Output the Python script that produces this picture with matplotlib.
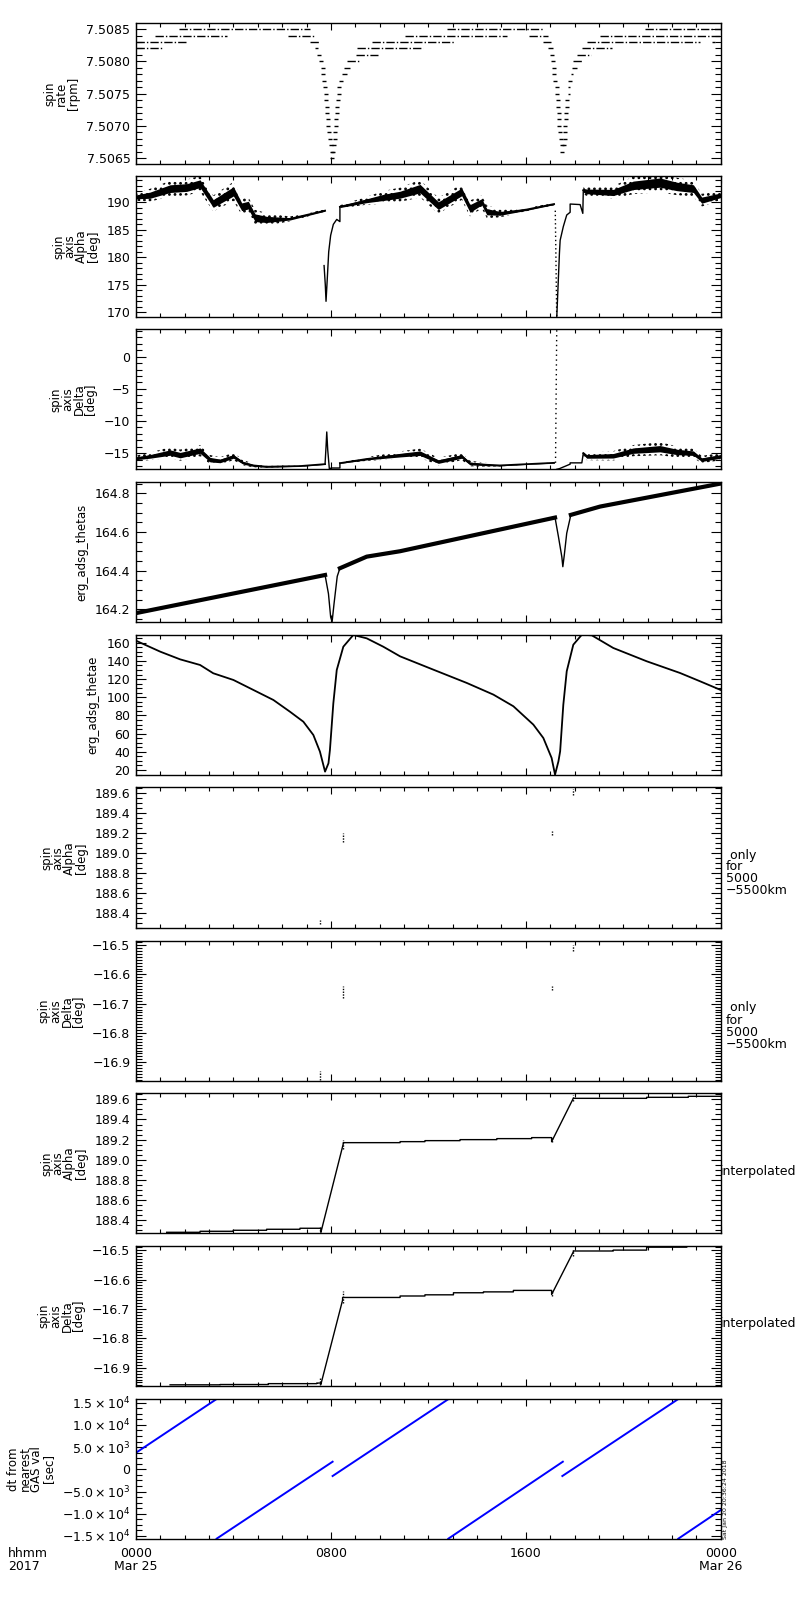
import numpy as np
import matplotlib
matplotlib.use("Agg")
import matplotlib.pyplot as plt
from matplotlib.ticker import MultipleLocator, FuncFormatter

plt.rcParams['font.family'] = ['DejaVu Sans']
plt.rcParams['hatch.linewidth'] = 1.2

# ---- spin rate: quantised runs (level, start hour, end hour) and single dots
rate_run_lvl = [7.5082, 7.5083, 7.5084, 7.5085, 7.5084, 7.5083, 7.5082,
                7.5078, 7.5079, 7.5080, 7.5081, 7.5082, 7.5083, 7.5084, 7.5085,
                7.5084, 7.5083, 7.5082, 7.5075, 7.5076, 7.5078, 7.5079, 7.5080,
                7.5081, 7.5082, 7.5083, 7.5083, 7.5084, 7.5085]
rate_run_h0 = [0.00, 0.00, 0.78, 1.77, 6.24, 7.14, 7.35,
               8.44, 8.54, 8.65, 9.03, 9.06, 9.68, 11.04, 12.77,
               16.13, 16.71, 16.91, 17.72, 17.75, 17.84, 17.91, 17.95,
               18.09, 18.30, 18.50, 23.63, 19.05, 20.90]
rate_run_h1 = [1.07, 2.13, 3.74, 7.14, 7.35, 7.55, 7.47,
               8.65, 8.78, 9.20, 9.93, 11.78, 13.10, 15.23, 16.71,
               16.91, 17.04, 17.12, 17.82, 17.82, 17.95, 18.09, 18.30,
               18.67, 19.53, 23.15, 23.77, 24.00, 24.00]
rate_pt_h = [7.51, 7.59, 7.66, 7.69, 7.73, 7.76, 7.79, 7.80, 7.83, 7.85, 7.87,
             7.89, 7.94, 7.96, 7.99, 8.03, 8.05, 8.10, 8.14, 8.17, 8.18, 8.20,
             8.21, 8.24, 8.26, 8.29, 8.32, 8.35, 8.40,
             17.06, 17.12, 17.15, 17.17, 17.20, 17.27, 17.29, 17.31, 17.32,
             17.35, 17.36, 17.38, 17.42, 17.46, 17.49, 17.50, 17.57, 17.60,
             17.61, 17.62, 17.65, 17.66, 17.68, 17.69, 17.82]
rate_pt_v = [7.5081, 7.5080, 7.5079, 7.5078, 7.5077, 7.5076, 7.5075, 7.5074,
             7.5073, 7.5072, 7.5071, 7.5070, 7.5069, 7.5068, 7.5067, 7.5066,
             7.5065, 7.5066, 7.5067, 7.5068, 7.5069, 7.5070, 7.5071, 7.5072,
             7.5073, 7.5074, 7.5075, 7.5076, 7.5077,
             7.5081, 7.5080, 7.5079, 7.5078, 7.5077, 7.5076, 7.5075, 7.5074,
             7.5073, 7.5072, 7.5071, 7.5070, 7.5069, 7.5068, 7.5067, 7.5066,
             7.5067, 7.5068, 7.5069, 7.5070, 7.5071, 7.5072, 7.5073, 7.5074,
             7.5077]

# ---- spin axis alpha: noisy band (centre, half width) + thin dip curves
alpha_h1 = [0.0, 0.57, 1.40, 2.08, 2.63, 3.17, 4.00, 4.34, 4.61, 4.89, 5.36, 6.32, 7.76]
alpha_c1 = [191.0, 191.3, 192.5, 192.7, 193.4, 189.8, 192.0, 189.2, 189.5, 187.2, 186.9, 187.0, 188.5]
alpha_w1 = [0.5, 0.8, 1.0, 1.0, 1.0, 1.0, 1.2, 1.0, 1.0, 1.0, 0.8, 0.3, 0.15]
alpha_h2 = [8.37, 9.47, 10.15, 10.84, 11.66, 12.41, 13.37, 13.71, 14.19, 14.40, 14.94, 16.04, 17.16]
alpha_c2 = [189.2, 190.3, 190.9, 191.4, 192.5, 189.4, 191.9, 188.9, 190.1, 188.3, 188.0, 188.7, 189.7]
alpha_w2 = [0.2, 0.5, 0.8, 0.9, 1.1, 1.0, 1.0, 1.0, 0.8, 0.8, 0.5, 0.2, 0.15]
alpha_h3 = [18.36, 18.50, 19.59, 20.41, 21.51, 22.20, 22.88, 23.22, 24.0]
alpha_c3 = [192.2, 192.0, 191.8, 193.1, 193.6, 192.9, 192.5, 190.4, 191.3]
alpha_w3 = [0.5, 0.6, 0.8, 1.1, 1.2, 1.1, 1.0, 0.8, 0.6]
alpha_dip1_h = [7.72, 7.77, 7.80, 7.85, 7.91, 7.99, 8.10, 8.24, 8.37, 8.37]
alpha_dip1_v = [178.5, 175.0, 172.0, 176.0, 181.0, 184.0, 186.0, 186.9, 186.5, 189.2]
alpha_spike2_h = [17.21, 17.27]
alpha_spike2_v = [188.5, 169.0]
alpha_dip2_h = [17.27, 17.38, 17.41, 17.54, 17.68, 17.82, 17.82, 18.23, 18.34, 18.36]
alpha_dip2_v = [169.0, 180.7, 183.1, 185.6, 187.7, 188.2, 189.7, 189.6, 188.0, 192.2]

# ---- spin axis delta
delta_h1 = [0.0, 0.57, 1.40, 1.81, 2.63, 3.04, 3.45, 4.00, 4.40, 4.82, 5.36, 6.73, 7.76]
delta_c1 = [-15.8, -15.5, -14.9, -15.3, -14.6, -16.0, -16.2, -15.5, -16.5, -16.9, -17.1, -17.0, -16.7]
delta_w1 = [0.3, 0.4, 0.6, 0.6, 0.6, 0.5, 0.4, 0.4, 0.3, 0.2, 0.1, 0.05, 0.05]
delta_h2 = [8.37, 9.47, 10.84, 11.66, 12.41, 13.37, 13.71, 14.40, 14.94, 16.04, 17.16]
delta_c2 = [-16.55, -15.9, -15.3, -15.0, -16.3, -15.5, -16.6, -16.8, -16.9, -16.7, -16.5]
delta_w2 = [0.05, 0.2, 0.4, 0.5, 0.4, 0.4, 0.3, 0.2, 0.1, 0.05, 0.05]
delta_h3 = [18.36, 18.50, 19.59, 20.41, 21.51, 22.20, 22.88, 23.22, 24.0]
delta_c3 = [-15.0, -15.5, -15.4, -14.6, -14.3, -14.8, -15.0, -16.0, -15.5]
delta_w3 = [0.3, 0.4, 0.5, 0.6, 0.7, 0.6, 0.5, 0.4, 0.4]
delta_dip1_h = [7.76, 7.80, 7.83, 7.87, 7.94, 8.00, 8.37, 8.37]
delta_dip1_v = [-16.7, -14.0, -11.7, -14.5, -17.6, -17.3, -17.3, -16.55]
delta_spike2_h = [17.22, 17.27]
delta_spike2_v = [-16.5, 4.4]
delta_dip2_h = [17.27, 17.38, 17.82, 17.82, 18.30, 18.36]
delta_dip2_v = [-17.5, -17.4, -16.7, -16.5, -16.5, -15.0]

# ---- erg_adsg_thetas
thetas_h = [0.0, 7.76, 7.90, 7.99, 8.05, 8.13, 8.26, 8.37, 9.47, 10.84, 17.20,
            17.34, 17.48, 17.52, 17.58, 17.68, 17.85, 19.05, 24.0]
thetas_v = [164.18, 164.377, 164.28, 164.16, 164.136, 164.23, 164.37, 164.412,
            164.472, 164.50, 164.674, 164.575, 164.47, 164.42, 164.48, 164.593,
            164.688, 164.731, 164.85]
thetas_band = [(0.0, 7.76), (8.37, 17.20), (17.85, 24.0)]

# ---- erg_adsg_thetae
thetae_h = [0.0, 1.0, 1.81, 2.63, 3.17, 4.0, 4.82, 5.64, 6.32, 6.87, 7.28, 7.55,
            7.76, 7.90, 7.96, 8.10, 8.24, 8.51, 8.92, 9.47, 10.15, 10.84, 12.21,
            13.58, 14.67, 15.49, 16.31, 16.72, 17.06, 17.20, 17.34, 17.41, 17.54,
            17.68, 17.95, 18.30, 18.71, 19.59, 20.96, 22.33, 23.15, 24.0]
thetae_v = [162.2, 150.1, 141.7, 135.5, 126.4, 119.0, 108.0, 97.0, 84.1, 73.1,
            58.5, 40.2, 18.2, 27.4, 42.0, 93.4, 130.0, 155.6, 168.5, 164.8, 155.6,
            145.0, 130.3, 115.7, 102.9, 90.1, 69.9, 55.2, 33.2, 14.9, 29.6, 40.6,
            91.8, 128.6, 157.8, 168.8, 168.1, 154.2, 139.6, 126.7, 117.6, 108.0]

# ---- alpha / delta only for 5000-5500km (short vertical clusters)
only_h = [7.57, 8.51, 17.06, 17.93]
only_alpha_lo = [188.29, 189.11, 189.18, 189.58]
only_alpha_hi = [188.33, 189.20, 189.22, 189.64]
only_delta_lo = [-16.96, -16.68, -16.655, -16.52]
only_delta_hi = [-16.93, -16.64, -16.64, -16.50]

# ---- interpolated alpha / delta
alpha_i_h = [1.26, 2.63, 2.63, 3.99, 3.99, 5.36, 5.36, 6.73, 6.73, 7.59, 7.59,
             8.51, 8.51, 10.84, 10.84, 11.86, 11.86, 13.30, 13.30, 14.81, 14.81,
             16.24, 16.24, 17.06, 17.06, 17.95, 17.95, 20.96, 20.96, 22.67, 22.67, 24.0]
alpha_i_v = [188.28, 188.28, 188.29, 188.29, 188.30, 188.30, 188.31, 188.31,
             188.32, 188.32, 188.28, 189.16, 189.17, 189.17, 189.18, 189.18,
             189.19, 189.19, 189.20, 189.20, 189.21, 189.21, 189.22, 189.22,
             189.18, 189.61, 189.61, 189.61, 189.62, 189.62, 189.63, 189.63]
delta_i_h = [1.40, 3.45, 3.45, 5.43, 5.43, 7.42, 7.42, 7.59, 7.59, 8.48, 8.48,
             10.84, 10.84, 11.86, 11.86, 13.03, 13.03, 14.26, 14.26, 15.49, 15.49,
             17.06, 17.06, 17.95, 17.95, 19.59, 19.59, 20.96, 20.96, 22.61, 22.61, 24.0]
delta_i_v = [-16.958, -16.958, -16.957, -16.957, -16.954, -16.954, -16.952, -16.952,
             -16.956, -16.670, -16.661, -16.661, -16.656, -16.656, -16.652, -16.652,
             -16.645, -16.645, -16.642, -16.642, -16.637, -16.637, -16.651, -16.506,
             -16.503, -16.503, -16.500, -16.500, -16.490, -16.490, -16.480, -16.480]

# ---- dt from nearest GAS val: straight blue pieces
dt_h0 = [0.0, 3.31, 8.07, 12.82, 17.50, 22.26]
dt_h1 = [3.31, 8.07, 12.83, 17.52, 22.26, 24.0]
dt_v0 = [3740, -15600, -1500, -15600, -1500, -15600]
dt_v1 = [15830, 1720, 15830, 1720, 15830, -9170]

ylabels = ["spin\nrate\n[rpm]", "spin\naxis\nAlpha\n[deg]", "spin\naxis\nDelta\n[deg]",
           "erg_adsg_thetas", "erg_adsg_thetae", "spin\naxis\nAlpha\n[deg]",
           "spin\naxis\nDelta\n[deg]", "spin\naxis\nAlpha\n[deg]",
           "spin\naxis\nDelta\n[deg]", "dt from\nnearest\nGAS val\n[sec]"]
ylims = [(7.50641, 7.50859), (169.2, 194.8), (-17.5, 4.25), (164.134, 164.858),
         (14.5, 168.8), (188.25, 189.66), (-16.964, -16.485), (188.27, 189.66),
         (-16.961, -16.485), (-15608, 15833)]
ymajor = [0.0005, 5, 5, 0.2, 20, 0.2, 0.1, 0.2, 0.1, 5000]
yminor = [0.0001, 1, 1, 0.05, 5, 0.05, 0.01, 0.05, 0.01, 1250]
yfmt = ['%.4f', '%d', '%d', '%.1f', '%d', '%.1f', '%.1f', '%.1f', '%.1f', None]
xtick_labels = ['0000\nMar 25', '0800', '1600', '0000\nMar 26']

tops = [23.3, 176, 329.3, 482, 634.7, 787.3, 940.7, 1093.3, 1245.7, 1399]
bots = [164, 316.7, 469.3, 622, 775, 928.3, 1081, 1233.3, 1385.7, 1538.7]

W, H = 800, 1600


def sci_fmt(v, pos):
    if abs(v) < 1e-6:
        return '0'
    e = int(np.floor(np.log10(abs(v))))
    m = v / 10 ** e
    return r'$%s%.1f\times10^{%d}$' % ('-' if m < 0 else '', abs(m), e)


def make_fmt(f):
    return FuncFormatter(lambda v, p: (f % v).replace('-', '\u2212'))


def band(ax, h, c, w):
    h = np.array(h)
    c = np.array(c)
    w = np.array(w)
    ax.fill_between(h, c - 1.45 * w, c + 1.45 * w, facecolor='none', edgecolor='k',
                    hatch='...', linewidth=0)
    ax.fill_between(h, c - 0.7 * w, c + 0.7 * w, color='k', linewidth=0)
    ax.plot(h, c, color='k', lw=1.3)


fig = plt.figure(figsize=(8, 16), dpi=100)
axes = []
for i, (t, b) in enumerate(zip(tops, bots)):
    ax = fig.add_axes([136 / W, 1 - b / H, 584.7 / W, (b - t) / H])
    ax.set_xlim(0, 24)
    ax.set_ylim(*ylims[i])
    ax.xaxis.set_major_locator(MultipleLocator(8))
    ax.xaxis.set_minor_locator(MultipleLocator(1))
    ax.yaxis.set_major_locator(MultipleLocator(ymajor[i]))
    ax.yaxis.set_minor_locator(MultipleLocator(yminor[i]))
    if yfmt[i] is None:
        ax.yaxis.set_major_formatter(FuncFormatter(sci_fmt))
    else:
        ax.yaxis.set_major_formatter(make_fmt(yfmt[i]))
    ax.tick_params(which='both', direction='in', top=True, right=True,
                   width=0.8, labelsize=9, pad=4)
    ax.tick_params(axis='y', which='major', length=7)
    ax.tick_params(axis='y', which='minor', length=4)
    ax.tick_params(axis='x', which='major', length=5)
    ax.tick_params(axis='x', which='minor', length=3)
    for s in ax.spines.values():
        s.set_linewidth(1.0)
    ax.set_ylabel(ylabels[i], fontsize=8.5, linespacing=0.85, labelpad=5)
    if i < 9:
        ax.tick_params(labelbottom=False)
    else:
        ax.set_xticks([0, 8, 16, 24])
        ax.set_xticklabels(xtick_labels, linespacing=0.95)
        ax.tick_params(axis='x', pad=6)
    axes.append(ax)

# panel 1: spin rate
ax = axes[0]
for lvl, a, b in zip(rate_run_lvl, rate_run_h0, rate_run_h1):
    ax.plot([a, b], [lvl, lvl], color='k', lw=1.0, linestyle=(0, (6, 1.5, 1, 1.5)))
ax.plot(rate_pt_h, rate_pt_v, linestyle='none', marker='_', ms=2.5, mew=1.0, color='k')

# panel 2: alpha
ax = axes[1]
band(ax, alpha_h1, alpha_c1, alpha_w1)
band(ax, alpha_h2, alpha_c2, alpha_w2)
band(ax, alpha_h3, alpha_c3, alpha_w3)
ax.plot(alpha_dip1_h, alpha_dip1_v, color='k', lw=1.0)
ax.plot(alpha_spike2_h, alpha_spike2_v, color='k', lw=1.0, linestyle=(0, (1, 2)))
ax.plot(alpha_dip2_h, alpha_dip2_v, color='k', lw=1.0)

# panel 3: delta
ax = axes[2]
band(ax, delta_h1, delta_c1, delta_w1)
band(ax, delta_h2, delta_c2, delta_w2)
band(ax, delta_h3, delta_c3, delta_w3)
ax.plot(delta_dip1_h, delta_dip1_v, color='k', lw=1.0)
ax.plot(delta_spike2_h, delta_spike2_v, color='k', lw=1.0, linestyle=(0, (1, 2.5)))
ax.plot(delta_dip2_h, delta_dip2_v, color='k', lw=1.0)

# panel 4: thetas
ax = axes[3]
ax.plot(thetas_h, thetas_v, color='k', lw=1.0)
th = np.array(thetas_h)
tv = np.array(thetas_v)
for a, b in thetas_band:
    m = (th >= a) & (th <= b)
    ax.plot(th[m], tv[m], color='k', lw=3.0)

# panel 5: thetae
axes[4].plot(thetae_h, thetae_v, color='k', lw=1.3)

# panels 6/7: only 5000-5500 km
axes[5].vlines(only_h, only_alpha_lo, only_alpha_hi, color='k', lw=1.0, linestyle=(0, (1, 1)))
axes[6].vlines(only_h, only_delta_lo, only_delta_hi, color='k', lw=1.0, linestyle=(0, (1, 1)))

# panels 8/9: interpolated
axes[7].plot(alpha_i_h, alpha_i_v, color='k', lw=1.0)
axes[7].vlines(only_h, only_alpha_lo, only_alpha_hi, color='k', lw=1.0, linestyle=(0, (1, 1)))
axes[8].plot(delta_i_h, delta_i_v, color='k', lw=1.0)
axes[8].vlines(only_h, only_delta_lo, only_delta_hi, color='k', lw=1.0, linestyle=(0, (1, 1)))

# panel 10: dt
ax = axes[9]
for a, b, va, vb in zip(dt_h0, dt_h1, dt_v0, dt_v1):
    ax.plot([a, b], [va, vb], color='#0000ff', lw=1.4)

# side annotations
for y in (873, 1026):
    fig.text(726 / W, 1 - y / H, " only\nfor\n5000\n\u22125500km", ha='left', va='center',
             fontsize=9, linespacing=0.9)
for y in (1171, 1324):
    fig.text(720 / W, 1 - y / H, "interpolated", ha='left', va='center', fontsize=9)
fig.text(8 / W, 1 - 1547 / H, "hhmm\n2017", ha='left', va='top', fontsize=9, linespacing=0.95)
fig.text(726 / W, 1 - 1539 / H, "Sat Jan 20 20:36:24 2018", rotation=90, ha='center',
         va='bottom', fontsize=4.5)

fig.savefig("out.png", dpi=100)
